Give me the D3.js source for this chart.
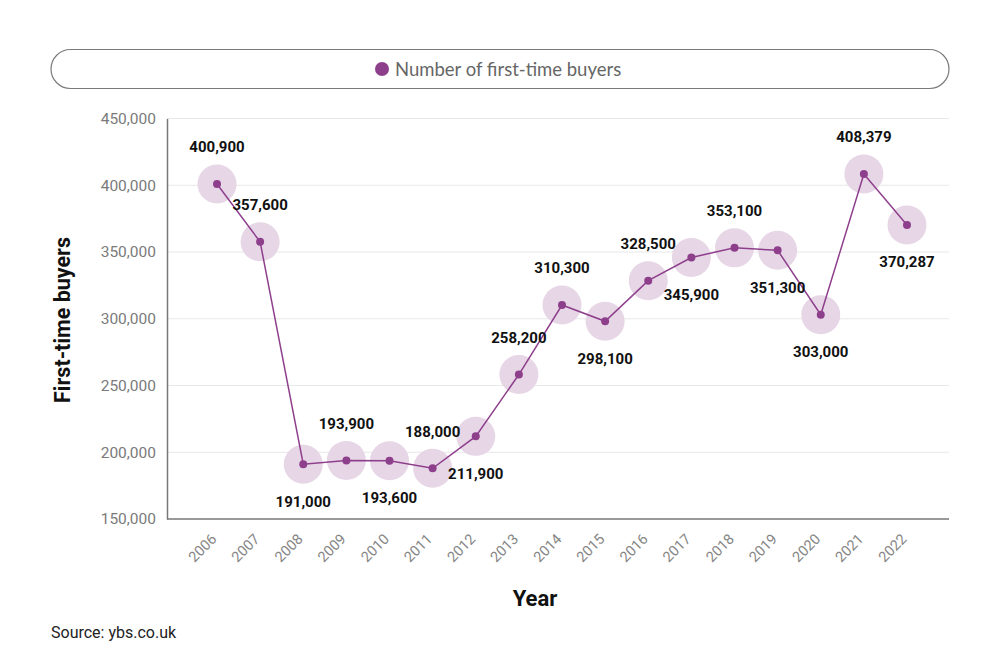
<!DOCTYPE html>
<html><head><meta charset="utf-8">
<script src="https://cdn.jsdelivr.net/npm/d3@7"></script>
<style>
html,body{margin:0;padding:0;background:#fff;}
svg{display:block;}
</style></head>
<body>
<svg id="chart" width="1000" height="658"></svg>
<script>
const years = ["2006","2007","2008","2009","2010","2011","2012","2013","2014","2015","2016","2017","2018","2019","2020","2021","2022"];
const buyers = [400900,357600,191000,193900,193600,188000,211900,258200,310300,298100,328500,345900,353100,351300,303000,408379,370287];
const labelSide = ["above","above","below","above","below","above","below","above","above","below","above","below","above","below","below","above","below"];
const yTicks = [150000,200000,250000,300000,350000,400000,450000];
const seriesName = "Number of first-time buyers";

(function(){
const svg = d3.select("#chart");
const plotL = 167, plotR = 949, plotT = 118.5, plotB = 519;

const x = d3.scalePoint().domain(years).range([217, 907]);
const y = d3.scaleLinear().domain([150000, 450000]).range([plotB, plotT]);

// legend
svg.append("rect").attr("x",51).attr("y",49.5).attr("width",898).attr("height",39)
  .attr("rx",19.5).attr("fill","#fff").attr("stroke","#7a7a7a").attr("stroke-width",1.2);
svg.append("circle").attr("cx",382).attr("cy",69).attr("r",7).attr("fill","#8e3f8c");
svg.append("text").attr("x",395).attr("y",75.5).text(seriesName)
  .attr("font-family","Lato, sans-serif").attr("font-size",18.5).attr("fill","#666");

// grid
svg.append("g").selectAll("line").data(yTicks.slice(1)).join("line")
  .attr("x1",plotL).attr("x2",plotR).attr("y1",d=>y(d)).attr("y2",d=>y(d))
  .attr("stroke","#e8e8e8").attr("stroke-width",1);

// y axis
const yAxis = svg.append("g").attr("transform",`translate(${plotL},0)`)
  .call(d3.axisLeft(y).tickValues(yTicks).tickFormat(d3.format(",")).tickSize(0).tickPadding(11));
yAxis.select(".domain").attr("stroke","#777").attr("stroke-width",1.5);
yAxis.selectAll("text").attr("font-family","Roboto, sans-serif").attr("font-size",15.5).attr("fill","#7a7a7a");

// x axis
const xAxis = svg.append("g").attr("transform",`translate(0,${plotB})`)
  .call(d3.axisBottom(x).tickSize(0).tickPadding(0));
xAxis.select(".domain").attr("d",`M${plotL},0H${plotR}`).attr("stroke","#777").attr("stroke-width",1.5);
xAxis.selectAll("text").attr("font-family","Roboto, sans-serif").attr("font-size",14.5).attr("fill","#868686")
  .attr("text-anchor","end").attr("dy",null).attr("y",0)
  .attr("transform","translate(0,21) rotate(-45)");

// axis titles
svg.append("text").attr("transform","translate(70,320) rotate(-90)").attr("text-anchor","middle")
  .attr("font-family","Roboto, sans-serif").attr("font-weight","bold").attr("font-size",21.5).attr("fill","#111")
  .text("First-time buyers");
svg.append("text").attr("x",535).attr("y",606).attr("text-anchor","middle")
  .attr("font-family","Roboto, sans-serif").attr("font-weight","bold").attr("font-size",22).attr("fill","#111")
  .text("Year");
svg.append("text").attr("x",51).attr("y",638)
  .attr("font-family","Roboto, sans-serif").attr("font-size",16).attr("fill","#222")
  .text("Source: ybs.co.uk");

const data = years.map((yr,i)=>({yr, v:buyers[i], side:labelSide[i]}));

// halos
svg.append("g").selectAll("circle").data(data).join("circle")
  .attr("cx",d=>x(d.yr)).attr("cy",d=>y(d.v)).attr("r",19.5)
  .attr("fill","#e6d6e6");

// line
svg.append("path").datum(data)
  .attr("d", d3.line().x(d=>x(d.yr)).y(d=>y(d.v)))
  .attr("fill","none").attr("stroke","#8e3f8c").attr("stroke-width",1.5);

// points
svg.append("g").selectAll("circle").data(data).join("circle")
  .attr("cx",d=>x(d.yr)).attr("cy",d=>y(d.v)).attr("r",4)
  .attr("fill","#8e3f8c");

// labels
svg.append("g").selectAll("text").data(data).join("text")
  .attr("x",d=>x(d.yr)).attr("y",d=>y(d.v) + (d.side==="above" ? -37 : 37))
  .attr("dy","0.35em").attr("text-anchor","middle")
  .attr("font-family","Roboto, sans-serif").attr("font-weight","bold").attr("font-size",15).attr("fill","#111")
  .text(d=>d3.format(",")(d.v));
})();
</script>
</body></html>
